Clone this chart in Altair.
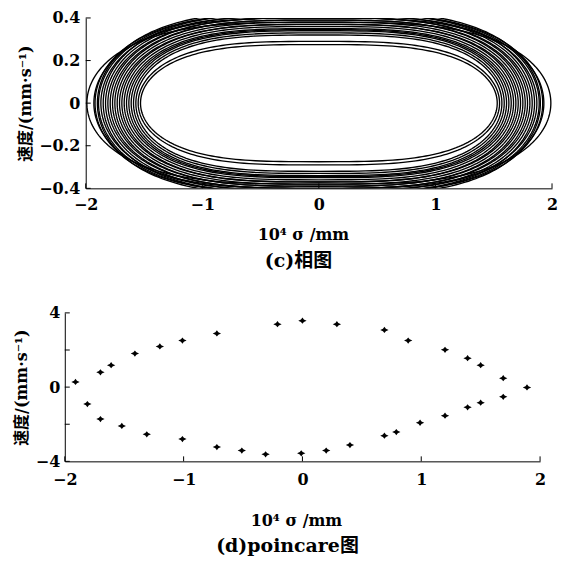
import altair as alt
import numpy as np
import pandas as pd

alt.data_transformers.disable_max_rows()

# ---------------- (c) phase portrait: orbit loops ----------
# half-width (x extreme) and half-height (velocity extreme) of each loop
loop_a = [1.53, 1.55, 1.57, 1.59, 1.61, 1.63, 1.65, 1.67, 1.69, 1.71, 1.73, 1.75,
          1.77, 1.79, 1.81, 1.83, 1.85, 1.87, 1.89, 1.90, 1.92, 1.93, 1.99]
loop_b = [0.275, 0.29, 0.32, 0.33, 0.34, 0.345, 0.35, 0.36, 0.37, 0.37, 0.38, 0.39,
          0.39, 0.40, 0.40, 0.41, 0.42, 0.41, 0.42, 0.43, 0.42, 0.40, 0.38]
LOOP_SHAPE = 3.3   # bluntness of the loop ends (2 = ellipse)

# ---------------- (d) Poincare section points --------------------------------------
pc_x = [-1.91, -1.81, -1.70, -1.70, -1.61, -1.52, -1.41, -1.31, -1.20, -1.01,
        -1.01, -0.72, -0.72, -0.51, -0.31, -0.21, 0.00, 0.29, 0.69, 0.89,
        1.20, 1.39, 1.50, 1.69, 1.89, 1.69, 1.50, 1.39, 1.20, 0.99,
        0.79, 0.69, 0.40, 0.20, -0.01]
pc_v = [0.28, -0.91, 0.80, -1.72, 1.18, -2.09, 1.81, -2.54, 2.19, 2.51,
        -2.80, 2.89, -3.23, -3.42, -3.62, 3.39, 3.58, 3.39, 3.08, 2.51,
        2.01, 1.56, 1.18, 0.48, -0.02, -0.52, -0.84, -1.09, -1.54, -1.92,
        -2.42, -2.62, -3.12, -3.42, -3.57]

x_ticks = [-2, -1, 0, 1, 2]
y_ticks_c = [-0.4, -0.2, 0, 0.2, 0.4]
y_ticks_d = [-4, -2, 0, 2, 4]

x_title = "10⁴ σ /mm"
y_title = "速度/(mm·s⁻¹)"
cap_c = "(c)相图"
cap_d = "(d)poincare图"

# build loop curves from the read extremes
t = np.linspace(0, 2 * np.pi, 241)
rows = []
for k, (a, b) in enumerate(zip(loop_a, loop_b)):
    c = np.cos(t)
    xs = a * np.sign(c) * np.abs(c) ** (2.0 / LOOP_SHAPE)
    ys = b * np.sin(t)
    for i in range(len(t)):
        rows.append({"loop": k, "i": i, "x": xs[i], "v": ys[i]})
loops = pd.DataFrame(rows)
pc = pd.DataFrame({"x": pc_x, "v": pc_v})

LAB_FONT = "DejaVu Serif"
TTL_FONT = "DejaVu Serif, Noto Sans CJK SC"


def axes(xrange, ydom, yticks, yoff, title_x, xlab_pad, xtitle_pad, ytitle_pad, ylab_pad):
    xs = alt.X("x:Q", scale=alt.Scale(domain=[-2, 2], nice=False, zero=False, range=xrange),
               axis=alt.Axis(values=x_ticks, ticks=False, grid=False, domainColor="black",
                             domainWidth=1, labelFont=LAB_FONT, labelFontWeight="bold",
                             labelFontSize=16, labelColor="black", labelPadding=xlab_pad,
                             labelFlush=False, format="~g",
                             title=x_title, titleFont=TTL_FONT, titleFontWeight="bold",
                             titleFontSize=16, titleColor="black", titlePadding=xtitle_pad,
                             titleX=title_x, titleAlign="center"))
    ys = alt.Y("v:Q", scale=alt.Scale(domain=ydom, nice=False, zero=False),
               axis=alt.Axis(values=yticks, ticks=False, grid=False, domainColor="black",
                             domainWidth=1, labelFont=LAB_FONT, labelFontWeight="bold",
                             labelFontSize=16, labelColor="black", labelPadding=ylab_pad,
                             labelFlush=False, offset=yoff,
                             format="~g", title=y_title, titleFont=TTL_FONT,
                             titleFontWeight="bold", titleFontSize=16, titleColor="black",
                             titlePadding=ytitle_pad))
    return xs, ys


def tick_layers(x0, hei, yticks):
    xt = alt.Chart(pd.DataFrame({"x": x_ticks})).mark_rule(color="black", strokeWidth=1).encode(
        x="x:Q", y=alt.value(hei), y2=alt.value(hei - 5))
    yt = alt.Chart(pd.DataFrame({"v": yticks})).mark_rule(color="black", strokeWidth=1).encode(
        y="v:Q", x=alt.value(x0), x2=alt.value(x0 + 5))
    return xt, yt


def caption(text, dx, offset):
    return alt.TitleParams(text, orient="bottom", anchor="middle", font=TTL_FONT,
                           fontSize=19, fontWeight="bold", color="black",
                           offset=offset, dx=dx)


# ---- top panel (plot starts 21 px to the right of the shared origin)
SHIFT = 21
W1, H1 = 468 + SHIFT, 171
xs1, ys1 = axes([SHIFT, W1], [-0.4, 0.4], y_ticks_c, -SHIFT, 239, 8, 14, 5, 6)
curves = alt.Chart(loops).mark_line(color="black", strokeWidth=1.35, clip=True).encode(
    x=xs1, y=ys1, detail="loop:N", order="i:Q")
xt1, yt1 = tick_layers(SHIFT, H1, y_ticks_c)
top = alt.layer(curves, xt1, yt1).properties(
    width=W1, height=H1, title=caption(cap_c, -10, 10))

# ---- bottom panel
W2, H2 = 477, 149
xs2, ys2 = axes([0, W2], [-4, 4], y_ticks_d, 0, 232, 10, 25, 6, 5)
star = "M-1,0 L-0.35,-0.3 L0,-0.75 L0.35,-0.3 L1,0 L0.35,0.3 L0,0.75 L-0.35,0.3 Z"
pts = alt.Chart(pc).mark_point(shape=star, filled=True, color="black", size=70, opacity=1).encode(
    x=xs2, y=ys2)
xt2, yt2 = tick_layers(0, H2, y_ticks_d)
bottom = alt.layer(pts, xt2, yt2).properties(
    width=W2, height=H2, title=caption(cap_d, -15, 9))

chart = alt.concat(top, bottom, columns=1, spacing=34).properties(
    padding={"left": 5, "top": 1, "right": 0, "bottom": 0}
).configure_view(strokeWidth=0)

chart.save("out.html", embed_options={"renderer": "svg", "actions": False})
